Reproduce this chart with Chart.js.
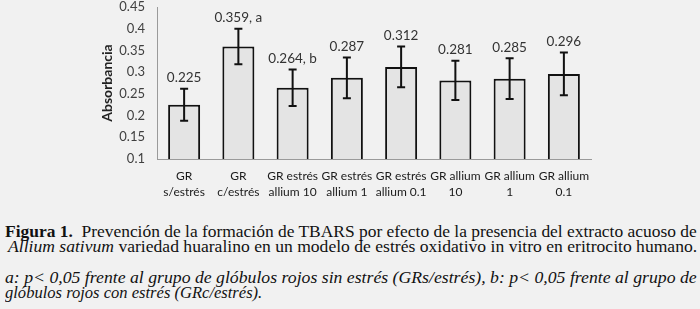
<!DOCTYPE html>
<html>
<head>
<meta charset="utf-8">
<script src="https://cdn.jsdelivr.net/npm/chart.js@4.4.1/dist/chart.umd.min.js"></script>
<style>
  html, body { margin: 0; padding: 0; background: #f1f1f1; }
  #wrap { position: relative; width: 700px; height: 309px; overflow: hidden; }
  #chart { position: absolute; left: 0; top: 0; }
  .cap {
    position: absolute; white-space: nowrap; transform-origin: 0 0;
    font-family: "Liberation Serif", "Times New Roman", serif;
    font-size: 17px; line-height: 17px; color: #111;
  }
  .it { font-style: italic; }
</style>
</head>
<body>
<div id="wrap">
  <canvas id="chart" width="700" height="205"></canvas>
  <div class="cap" style="left:5px;top:223px" data-w="692"><b>Figura 1.</b>&nbsp; Prevención de la formación de TBARS por efecto de la presencia del extracto acuoso de</div>
  <div class="cap" style="left:8px;top:238px" data-w="689"><i>Allium sativum</i> variedad huaralino en un modelo de estrés oxidativo in vitro en eritrocito humano.</div>
  <div class="cap it" style="left:5px;top:269px" data-w="692">a: p&lt; 0,05 frente al grupo de glóbulos rojos sin estrés (GRs/estrés), b: p&lt; 0,05 frente al grupo de</div>
  <div class="cap it" style="left:5px;top:284px" data-w="257">glóbulos rojos con estrés (GRc/estrés).</div>
</div>
<script>
const categories = [
    ['GR', 's/estrés'], ['GR', 'c/estrés'],
    ['GR estrés', 'allium 10'], ['GR estrés', 'allium 1'], ['GR estrés', 'allium 0.1'],
    ['GR allium', '10'], ['GR allium', '1'], ['GR allium', '0.1']
];
const absorbance = [0.225, 0.359, 0.264, 0.287, 0.312, 0.281, 0.285, 0.296];
const errors = [0.037, 0.041, 0.042, 0.047, 0.047, 0.045, 0.047, 0.049];
const labelSuffix = ['', ', a', ', b', '', '', '', '', ''];
const yMin = 0.1;
const yMax = 0.45;
const yStep = 0.05;

// error bars + value labels, placed with the y scale
const errorBars = {
    id: 'errorBars',
    afterDatasetsDraw(chart) {
        const ctx = chart.ctx;
        const y = chart.scales.y;
        const meta = chart.getDatasetMeta(0);
        ctx.save();
        meta.data.forEach((bar, i) => {
            const top = y.getPixelForValue(absorbance[i] + errors[i]);
            const bot = y.getPixelForValue(absorbance[i] - errors[i]);
            ctx.strokeStyle = '#111';
            ctx.lineWidth = 2;
            ctx.beginPath();
            ctx.moveTo(bar.x, top); ctx.lineTo(bar.x, bot);
            ctx.moveTo(bar.x - 4, top); ctx.lineTo(bar.x + 4, top);
            ctx.moveTo(bar.x - 4, bot); ctx.lineTo(bar.x + 4, bot);
            ctx.stroke();
            ctx.fillStyle = '#333';
            ctx.font = '13.5px Lato';
            ctx.textAlign = 'center';
            ctx.textBaseline = 'middle';
            ctx.fillText(absorbance[i].toFixed(3) + labelSuffix[i], bar.x, top - 11);
        });
        ctx.restore();
    }
};

const canvas = document.getElementById('chart');
new Chart(canvas.getContext('2d'), {
    type: 'bar',
    data: {
        labels: categories,
        datasets: [{
            data: absorbance,
            backgroundColor: '#e4e4e4',
            borderColor: '#111',
            borderWidth: 2,
            borderSkipped: false,
            barPercentage: 0.59,
            categoryPercentage: 1
        }]
    },
    options: {
        responsive: false,
        animation: false,
        devicePixelRatio: 1,
        layout: { padding: { left: 99, top: 7, right: 109, bottom: 0 } },
        plugins: { legend: { display: false }, tooltip: { enabled: false } },
        scales: {
            x: {
                grid: { display: false, drawTicks: false },
                border: { display: true, color: '#9a9a9a', width: 1 },
                ticks: {
                    color: '#1a1a1a',
                    font: { family: 'Lato', size: 12, lineHeight: 1.35 },
                    padding: 9, maxRotation: 0, autoSkip: false
                },
                afterFit(scale) { scale.height = canvas.height - 159; }
            },
            y: {
                min: yMin,
                max: yMax,
                grid: { display: false, drawTicks: false },
                border: { display: true, color: '#9a9a9a', width: 1 },
                ticks: {
                    stepSize: yStep,
                    color: '#404040',
                    font: { family: 'Lato', size: 13 },
                    padding: 12,
                    callback: v => String(+v.toFixed(2))
                },
                title: {
                    display: true,
                    text: 'Absorbancia',
                    color: '#222',
                    font: { family: 'Lato', size: 14, weight: 'bold' },
                    padding: 0
                },
                afterFit(scale) {
                    scale.width = 58;
                    scale.paddingTop = 0;
                    scale.paddingBottom = 0;
                }
            }
        }
    },
    plugins: [errorBars]
});

// squeeze caption lines to the scanned widths
document.querySelectorAll('.cap').forEach(el => {
    el.style.transform = 'scaleX(' + (el.dataset.w / el.offsetWidth) + ')';
});
</script>
</body>
</html>
